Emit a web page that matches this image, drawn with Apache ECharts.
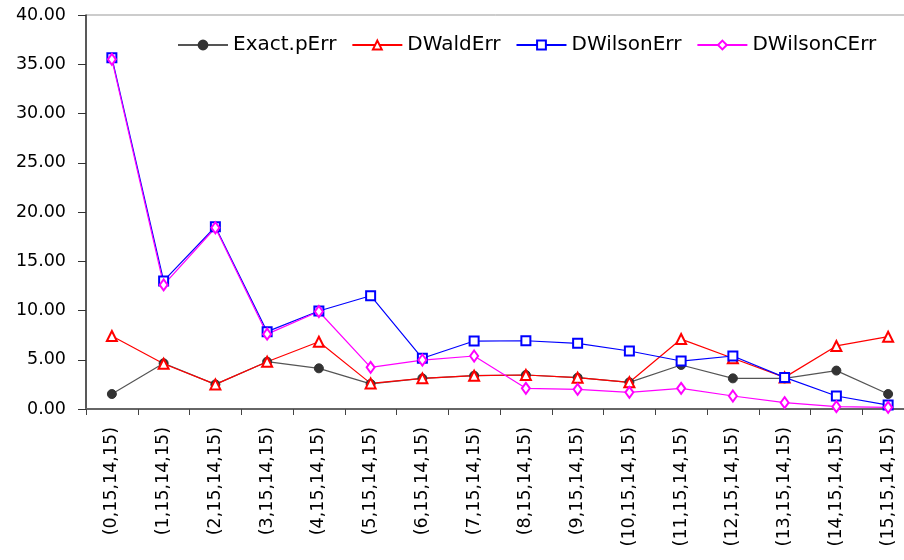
<!DOCTYPE html>
<html>
<head>
<meta charset="utf-8">
<script src="https://cdn.jsdelivr.net/npm/echarts@6/dist/echarts.min.js"></script>
<style>
html,body{margin:0;padding:0;background:#fff;overflow:hidden;}
#chart{width:904px;height:560px;}
</style>
</head>
<body>
<div id="chart"></div>
<script>
var categories = ["(0,15,14,15)","(1,15,14,15)","(2,15,14,15)","(3,15,14,15)","(4,15,14,15)","(5,15,14,15)","(6,15,14,15)","(7,15,14,15)","(8,15,14,15)","(9,15,14,15)","(10,15,14,15)","(11,15,14,15)","(12,15,14,15)","(13,15,14,15)","(14,15,14,15)","(15,15,14,15)"];
var exactPErr = [1.52, 4.64, 2.50, 4.80, 4.13, 2.55, 3.11, 3.38, 3.45, 3.18, 2.71, 4.47, 3.11, 3.11, 3.90, 1.52];
var dWaldErr = [7.41, 4.60, 2.50, 4.80, 6.83, 2.60, 3.11, 3.38, 3.45, 3.18, 2.71, 7.10, 5.15, 3.21, 6.40, 7.34];
var dWilsonErr = [35.67, 13.00, 18.50, 7.85, 9.95, 11.50, 5.15, 6.90, 6.93, 6.67, 5.89, 4.87, 5.38, 3.21, 1.32, 0.40];
var dWilsonCErr = [35.50, 12.60, 18.40, 7.60, 9.90, 4.23, 4.97, 5.38, 2.10, 2.00, 1.69, 2.10, 1.32, 0.64, 0.24, 0.17];
var seriesNames = ["Exact.pErr", "DWaldErr", "DWilsonErr", "DWilsonCErr"];

var FONT = "DejaVu Sans";
var chart = echarts.init(document.getElementById('chart'), null, {renderer: 'canvas'});
chart.setOption({
  animation: false,
  backgroundColor: '#ffffff',
  textStyle: {fontFamily: FONT},
  grid: {left: 86, top: 15, width: 828, bottom: 151, show: true, borderColor: '#999', borderWidth: 1,
         containLabel: false, outerBoundsMode: 'none'},
  legend: {
    left: 172, top: 30,
    itemWidth: 50, itemHeight: 11, itemGap: 15,
    textStyle: {fontFamily: FONT, fontSize: 20, color: '#000'},
    data: seriesNames
  },
  xAxis: {
    type: 'category',
    data: categories,
    boundaryGap: true,
    axisLine: {lineStyle: {color: '#666', width: 2}},
    axisTick: {show: true, alignWithLabel: false, length: 6, lineStyle: {color: '#444'}},
    axisLabel: {rotate: 90, margin: 18, interval: 0, hideOverlap: false, fontFamily: FONT, fontSize: 17.5, color: '#000'},
    splitLine: {show: false}
  },
  yAxis: {
    type: 'value',
    min: 0, max: 40, interval: 5,
    axisLine: {show: true, lineStyle: {color: '#333', width: 1.5}},
    axisTick: {show: true, length: 8, lineStyle: {color: '#333'}},
    axisLabel: {margin: 20, fontFamily: FONT, fontSize: 17.5, color: '#000', formatter: function(v){return v.toFixed(2);}},
    splitLine: {show: false}
  },
  series: [
    {name: seriesNames[0], type: 'line', data: exactPErr, symbol: 'circle', symbolSize: 9,
     lineStyle: {color: '#555', width: 1.2}, itemStyle: {color: '#333', borderColor: '#333', borderWidth: 1}},
    {name: seriesNames[1], type: 'line', data: dWaldErr, symbol: 'triangle', symbolSize: 10,
     lineStyle: {color: '#ff0000', width: 1.2}, itemStyle: {color: '#ffffff', borderColor: '#ff0000', borderWidth: 2}},
    {name: seriesNames[2], type: 'line', data: dWilsonErr, symbol: 'rect', symbolSize: 9,
     lineStyle: {color: '#0000ff', width: 1.2}, itemStyle: {color: '#ffffff', borderColor: '#0000ff', borderWidth: 2}},
    {name: seriesNames[3], type: 'line', data: dWilsonCErr, symbol: 'diamond', symbolSize: [8, 11],
     lineStyle: {color: '#ff00ff', width: 1.2}, itemStyle: {color: '#ffffff', borderColor: '#ff00ff', borderWidth: 2}}
  ]
});
</script>
</body>
</html>
